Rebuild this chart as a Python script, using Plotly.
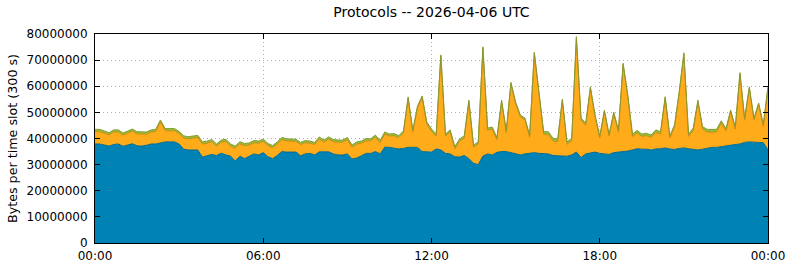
import pandas as pd
import plotly.graph_objects as go

# 10-minute slots from 00:00 to 00:00 next day (values in millions of bytes)
times = pd.date_range("2026-04-06 00:00", "2026-04-07 00:00", freq="10min")

blue_m = [37.9, 37.9, 37.5, 37.1, 37.7, 37.9, 37.0, 37.5, 38.0, 37.2,
          37.1, 37.4, 37.9, 37.9, 38.4, 38.7, 38.7, 38.7, 37.9, 35.9,
          35.6, 35.6, 35.6, 32.9, 33.3, 33.9, 33.5, 34.4, 33.7, 33.3,
          31.4, 33.2, 32.3, 33.1, 34.1, 33.7, 34.6, 33.0, 32.3, 33.5,
          35.0, 34.8, 34.8, 34.8, 33.4, 34.1, 34.3, 33.7, 34.9, 34.8,
          34.9, 34.1, 33.7, 33.7, 34.1, 32.2, 32.5, 33.4, 34.3, 34.3,
          35.0, 34.1, 36.7, 36.6, 36.4, 36.0, 36.2, 36.6, 36.6, 36.6,
          35.0, 34.8, 34.8, 36.0, 35.6, 34.3, 34.1, 33.0, 32.9, 33.5,
          32.3, 30.5, 30.0, 33.3, 34.1, 33.7, 34.7, 35.0, 35.0, 34.6,
          34.1, 33.7, 34.1, 34.4, 34.6, 34.3, 34.1, 34.1, 33.5, 33.5,
          33.3, 33.2, 33.7, 34.8, 32.7, 34.1, 34.4, 34.8, 34.3, 34.1,
          33.9, 34.6, 34.8, 34.8, 35.2, 35.6, 36.1, 35.9, 35.9, 35.6,
          36.0, 36.1, 36.4, 36.0, 35.8, 36.2, 36.4, 36.1, 35.8, 35.6,
          35.9, 36.2, 36.6, 36.6, 36.9, 37.3, 37.6, 37.7, 37.9, 38.5,
          38.7, 38.5, 38.5, 38.4, 35.6]

orange_m = [4.8, 4.8, 4.6, 4.3, 4.8, 4.6, 4.3, 4.6, 4.8, 4.6,
            4.6, 4.3, 4.6, 4.8, 8.0, 4.3, 4.3, 4.3, 4.0, 4.3,
            4.3, 4.6, 4.8, 5.0, 4.9, 4.9, 3.6, 4.2, 5.2, 3.8,
            4.9, 4.8, 5.0, 4.4, 4.3, 4.5, 4.4, 4.3, 4.2, 4.4,
            4.6, 4.3, 4.1, 4.1, 4.3, 4.3, 3.9, 4.0, 4.9, 3.8,
            4.9, 4.7, 4.9, 4.9, 5.5, 4.5, 5.4, 4.8, 4.9, 4.8,
            5.5, 4.3, 5.0, 4.3, 4.7, 4.3, 5.9, 18.7, 5.9, 15.1,
            20.7, 10.7, 8.0, 4.9, 35.9, 6.6, 8.4, 3.1, 6.1, 6.7,
            21.8, 6.2, 7.9, 41.3, 9.1, 9.9, 4.9, 19.1, 7.3, 26.3,
            19.2, 14.6, 13.0, 6.1, 37.9, 22.9, 7.6, 7.5, 5.6, 5.3,
            21.2, 4.6, 5.5, 43.7, 14.4, 11.0, 24.8, 13.5, 5.9, 16.1,
            7.0, 14.8, 7.7, 33.5, 20.9, 5.2, 6.1, 4.9, 5.2, 4.8,
            6.4, 5.6, 19.0, 4.2, 8.6, 21.1, 35.9, 4.7, 7.3, 18.4,
            7.7, 6.3, 5.9, 5.9, 9.1, 5.6, 12.6, 5.9, 26.8, 8.6,
            20.5, 8.6, 14.5, 6.3, 23.8]

green_m = [0.8, 0.8, 0.8, 0.8, 0.8, 0.8, 0.8, 0.8, 0.8, 0.8,
           0.8, 0.8, 0.8, 0.8, 0.7, 0.8, 0.8, 0.8, 0.8, 0.8,
           0.8, 0.8, 0.8, 0.8, 0.8, 0.8, 0.8, 0.8, 0.8, 0.8,
           0.8, 0.8, 0.8, 0.8, 0.8, 0.8, 0.8, 0.8, 0.8, 0.8,
           0.8, 0.8, 0.8, 0.8, 0.8, 0.8, 0.8, 0.8, 0.8, 0.8,
           0.8, 0.8, 0.8, 0.8, 0.8, 0.8, 0.8, 0.8, 0.8, 0.8,
           0.8, 0.8, 0.8, 0.8, 0.8, 0.8, 0.8, 0.6, 0.8, 0.7,
           0.6, 0.8, 0.8, 0.8, 0.5, 0.8, 0.8, 0.8, 0.8, 0.8,
           0.6, 0.8, 0.8, 0.5, 0.8, 0.8, 0.8, 0.6, 0.8, 0.6,
           0.7, 0.7, 0.7, 0.8, 0.5, 0.6, 0.9, 1.0, 1.0, 1.0,
           0.6, 0.9, 0.9, 0.5, 0.7, 0.8, 0.6, 0.7, 0.8, 0.7,
           0.8, 0.7, 0.8, 0.5, 0.6, 0.9, 0.9, 0.9, 0.9, 0.9,
           0.9, 0.9, 0.6, 0.9, 0.8, 0.6, 0.5, 0.9, 0.9, 0.7,
           0.9, 1.0, 1.0, 1.0, 0.8, 0.9, 0.7, 0.9, 0.5, 0.7,
           0.6, 0.7, 0.6, 0.8, 0.6]

series = [
    ("blue", blue_m, "#0083b4", "#006a94"),
    ("orange", orange_m, "#ffab1a", "#c98a12"),
    ("green", green_m, "#8cc43c", "#8a9a30"),
]

y_ticks = [0, 10000000, 20000000, 30000000, 40000000, 50000000, 60000000, 70000000, 80000000]
x_ticks = pd.date_range("2026-04-06 00:00", "2026-04-07 00:00", freq="6h")
x_ticklabels = ["00:00", "06:00", "12:00", "18:00", "00:00"]

fig = go.Figure()
for name, vals, fill, line in series:
    fig.add_trace(go.Scatter(
        x=times, y=[v * 1e6 for v in vals], name=name,
        mode="lines", stackgroup="one",
        fillcolor=fill, line=dict(color=line, width=1),
        hoverinfo="skip",
    ))

font = "DejaVu Sans, Verdana, sans-serif"
fig.update_layout(
    width=790, height=267,
    margin=dict(l=95, r=22, t=34, b=24, autoexpand=False),
    paper_bgcolor="white", plot_bgcolor="white",
    showlegend=False,
    font=dict(family=font, size=12, color="black"),
    title=dict(text="Protocols -- 2026-04-06 UTC", x=0.5, xref="paper",
               y=0.955, yref="container", yanchor="middle",
               font=dict(family=font, size=14, color="black")),
)
fig.update_xaxes(
    range=[x_ticks[0], x_ticks[-1]],
    tickvals=x_ticks, ticktext=x_ticklabels,
    showgrid=True, gridcolor="#b0b0b0", griddash="1px,3px", gridwidth=1,
    ticks="inside", ticklen=5, tickcolor="black", tickwidth=1,
    showline=True, linecolor="black", linewidth=1, mirror="ticks",
    zeroline=False, tickfont=dict(size=12), automargin=False,
    ticklabelstandoff=2,
)
fig.update_yaxes(
    range=[0, 80000000],
    tickvals=y_ticks, ticktext=[str(v) for v in y_ticks],
    showgrid=True, gridcolor="#b0b0b0", griddash="1px,3px", gridwidth=1,
    ticks="inside", ticklen=5, tickcolor="black", tickwidth=1,
    showline=True, linecolor="black", linewidth=1, mirror="ticks",
    zeroline=False, tickfont=dict(size=12), automargin=False,
    ticklabelstandoff=4,
    title=dict(text="Bytes per time slot (300 s)", font=dict(size=12.7), standoff=6),
)

fig.write_html("out.html")
